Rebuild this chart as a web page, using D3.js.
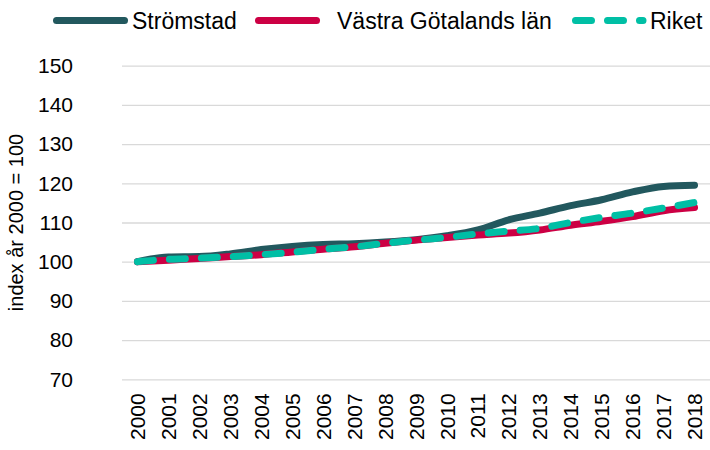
<!DOCTYPE html>
<html lang="sv">
<head>
    <meta charset="UTF-8">
    <title>Befolkningsutveckling index</title>
    <script src="https://d3js.org/d3.v7.min.js"></script>
    <style>
        body {
            margin: 0;
            background: #fff;
            font-family: "Liberation Sans", Arial, sans-serif;
        }
        .grid line {
            stroke: #d9d9d9;
            stroke-width: 1.3;
        }
        .series {
            fill: none;
            stroke-width: 7;
            stroke-linecap: round;
            stroke-linejoin: round;
        }
        .tick text {
            fill: #000;
        }
    </style>
</head>
<body>
    <div id="chart"></div>

    <script>
        // Data
        const years = ["2000", "2001", "2002", "2003", "2004", "2005", "2006", "2007", "2008", "2009",
            "2010", "2011", "2012", "2013", "2014", "2015", "2016", "2017", "2018"];
        const stromstad = [100, 101.2, 101.3, 102.0, 103.1, 103.9, 104.4, 104.6, 105.0, 105.6,
            106.6, 108.1, 110.7, 112.4, 114.3, 115.8, 117.8, 119.2, 119.5];
        const vastraGotaland = [100, 100.4, 100.8, 101.3, 101.8, 102.5, 103.2, 103.8, 104.7, 105.5,
            106.2, 106.8, 107.3, 108.1, 109.3, 110.3, 111.5, 113.0, 113.8];
        const riket = [100, 100.6, 100.9, 101.3, 101.8, 102.4, 103.2, 103.8, 104.7, 105.5,
            106.2, 107.1, 107.8, 108.5, 110.0, 111.3, 112.4, 113.7, 115.1];
        const yTicks = [70, 80, 90, 100, 110, 120, 130, 140, 150];
        const seriesNames = ["Strömstad", "Västra Götalands län", "Riket"];

        const colors = ["#22585e", "#cc0044", "#00bfa5"];
        const dashes = [null, null, "16 16"];

        const width = 710, height = 450;
        const plot = { left: 122, right: 710, top: 65.7, bottom: 379.3 };

        const svg = d3.select("#chart").append("svg")
            .attr("width", width)
            .attr("height", height);

        const x = d3.scaleBand()
            .domain(years)
            .range([plot.left, plot.right]);

        const y = d3.scaleLinear()
            .domain([70, 150])
            .range([plot.bottom, plot.top]);

        // horizontal gridlines
        svg.append("g")
            .attr("class", "grid")
            .attr("transform", `translate(${plot.left},0)`)
            .call(d3.axisLeft(y).tickValues(yTicks).tickSize(-(plot.right - plot.left)).tickFormat(""))
            .call(g => g.select(".domain").remove());

        // y axis labels
        svg.append("g")
            .attr("transform", "translate(73,0)")
            .call(d3.axisLeft(y).tickValues(yTicks).tickSize(0).tickPadding(0))
            .call(g => g.select(".domain").remove())
            .call(g => g.selectAll("text")
                .attr("font-size", 21)
                .attr("font-family", "Liberation Sans, Arial, sans-serif"));

        // x axis labels (rotated)
        svg.append("g")
            .attr("transform", `translate(0,${plot.bottom})`)
            .call(d3.axisBottom(x).tickSize(0).tickPadding(0))
            .call(g => g.select(".domain").remove())
            .call(g => g.selectAll("text")
                .attr("font-size", 21)
                .attr("font-family", "Liberation Sans, Arial, sans-serif")
                .attr("text-anchor", "end")
                .attr("transform", "translate(0,14) rotate(-90)")
                .attr("x", 0)
                .attr("y", 0)
                .attr("dy", "0.36em"));

        // y axis title
        svg.append("text")
            .attr("transform", `translate(23,${(plot.top + plot.bottom) / 2}) rotate(-90)`)
            .attr("text-anchor", "middle")
            .attr("font-size", 20)
            .text("index år 2000 = 100");

        // lines
        const line = d3.line()
            .x((d, i) => x(years[i]) + x.bandwidth() / 2)
            .y(d => y(d))
            .curve(d3.curveMonotoneX);

        [stromstad, vastraGotaland, riket].forEach((values, i) => {
            svg.append("path")
                .datum(values)
                .attr("class", "series")
                .attr("stroke", colors[i])
                .attr("stroke-dasharray", dashes[i])
                .attr("d", line);
        });

        // legend
        const legendItems = [
            { x1: 56.5, x2: 124.5, tx: 132 },
            { x1: 258.5, x2: 316.5, tx: 337 },
            { x1: 575.5, x2: 643, tx: 650 }
        ];
        const legendY = 20.5;

        legendItems.forEach((item, i) => {
            svg.append("line")
                .attr("class", "series")
                .attr("x1", item.x1)
                .attr("x2", item.x2)
                .attr("y1", legendY)
                .attr("y2", legendY)
                .attr("stroke", colors[i])
                .attr("stroke-dasharray", dashes[i]);

            svg.append("text")
                .attr("x", item.tx)
                .attr("y", legendY)
                .attr("dy", "0.35em")
                .attr("font-size", 23)
                .text(seriesNames[i]);
        });
    </script>
</body>
</html>
